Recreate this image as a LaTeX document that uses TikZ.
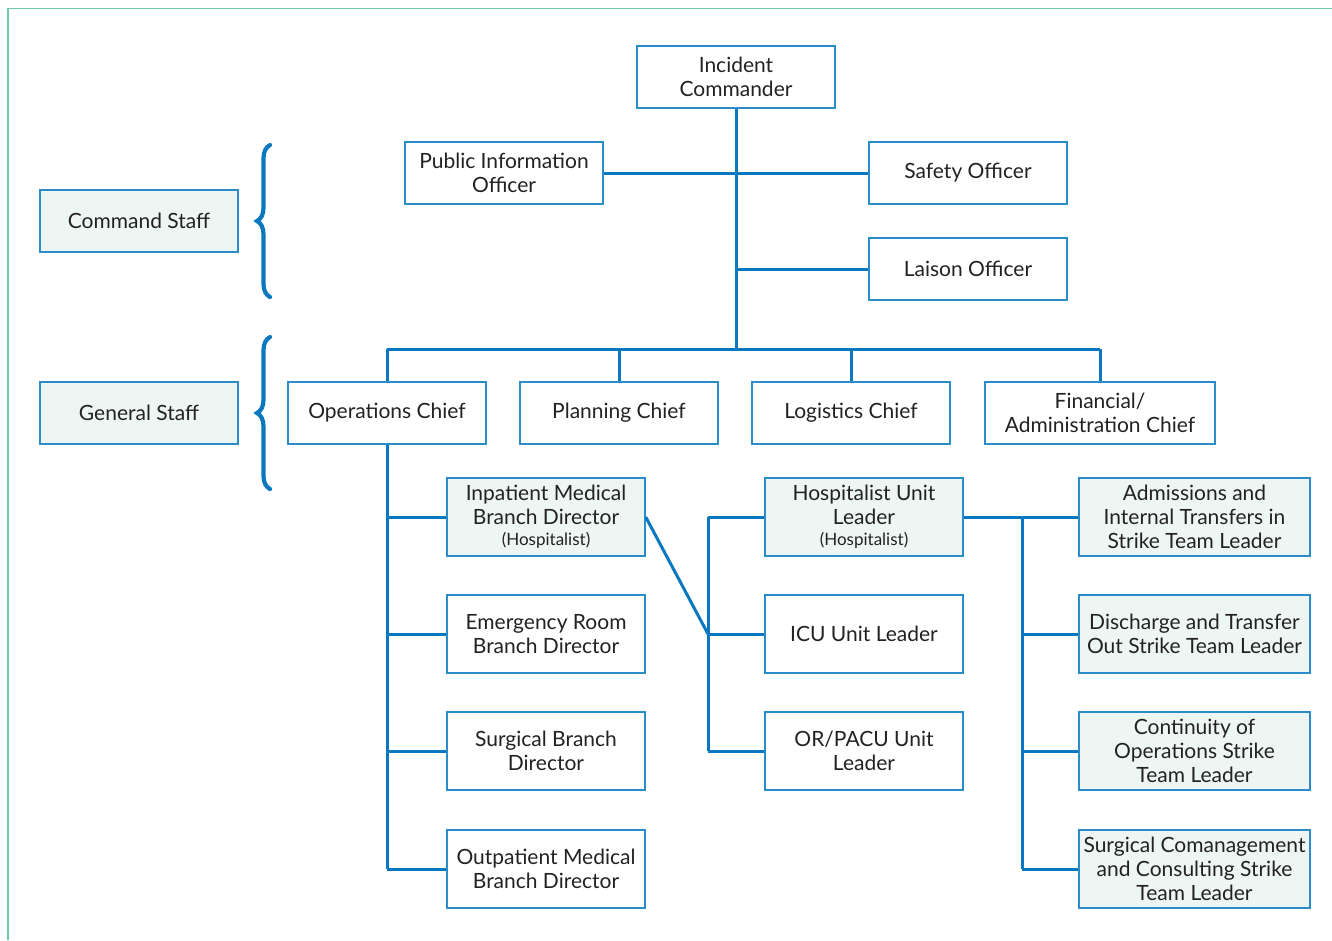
\documentclass[tikz,border=0pt]{standalone}
\usepackage{fontspec}
\setmainfont{Lato}
\usetikzlibrary{decorations.pathreplacing}
\definecolor{lineblue}{HTML}{0A78BE}
\definecolor{boxblue}{HTML}{2A8CC8}
\definecolor{shade}{HTML}{EEF6F4}
\definecolor{frame}{HTML}{6CC9B0}
\definecolor{txt}{HTML}{222222}
\begin{document}
\begin{tikzpicture}[x=1pt,y=-1pt,
  box/.style={draw=boxblue,line width=1.5pt,fill=white,minimum width=198pt,minimum height=62pt,inner sep=0pt,align=center,text=txt,font=\fontsize{21}{24}\selectfont},
  tall/.style={box,minimum height=78pt},
  shaded/.style={fill=shade},
  conn/.style={draw=lineblue,line width=3pt},
  bracestyle/.style={draw=lineblue,line width=4.2pt,line cap=round,decorate,decoration={brace,amplitude=13pt}}]
\useasboundingbox (0,0) rectangle (1332,940);
\draw[frame,line width=1.6pt] (8,940) -- (8,8.5) -- (1332,8.5);

% nodes
\node[box] (ic) at (736,77) {Incident\\Commander};
\node[box] (pio) at (504,173) {Public Information\\Officer};
\node[box] (safety) at (968,173) {Safety Officer};
\node[box] (laison) at (968,269) {Laison Officer};
\node[box,shaded] (cmd) at (139,221) {Command Staff};
\node[box,shaded] (gen) at (139,413) {General Staff};
\node[box] (ops) at (387,413) {Operations Chief};
\node[box] (plan) at (619,413) {Planning Chief};
\node[box] (log) at (851,413) {Logistics Chief};
\node[box,minimum width=230pt] (fin) at (1100,413) {Financial/\\Administration Chief};

\node[tall,shaded] (inp) at (546,517) {Inpatient Medical\\Branch Director\\[-3pt]{\fontsize{17}{20}\selectfont (Hospitalist)}};
\node[tall] (er) at (546,634) {Emergency Room\\Branch Director};
\node[tall] (surg) at (546,751) {Surgical Branch\\Director};
\node[tall] (outp) at (546,869) {Outpatient Medical\\Branch Director};

\node[tall,shaded] (hosp) at (864,517) {Hospitalist Unit\\Leader\\[-3pt]{\fontsize{17}{20}\selectfont (Hospitalist)}};
\node[tall] (icu) at (864,634) {ICU Unit Leader};
\node[tall] (orp) at (864,751) {OR/PACU Unit\\Leader};

\node[tall,shaded,minimum width=231pt] (adm) at (1194.5,517) {Admissions and\\Internal Transfers in\\Strike Team Leader};
\node[tall,shaded,minimum width=231pt] (dis) at (1194.5,634) {Discharge and Transfer\\Out Strike Team Leader};
\node[tall,shaded,minimum width=231pt] (cont) at (1194.5,751) {Continuity of\\Operations Strike\\Team Leader};
\node[tall,shaded,minimum width=231pt] (scm) at (1194.5,869) {Surgical Comanagement\\and Consulting Strike\\Team Leader};

% junction coordinates
\coordinate (bus) at (736,349);
\coordinate (mid) at (708,634);
\coordinate (rj) at (1022,517);

% connectors
\draw[conn] (ic.south) -- (bus);
\draw[conn] (pio.east) -- (safety.west);
\draw[conn] (laison.west) -- (laison.west -| ic.south);
\draw[conn] (ops.north |- bus) -- (fin.north |- bus);
\draw[conn] (ops.north |- bus) -- (ops.north);
\draw[conn] (plan.north |- bus) -- (plan.north);
\draw[conn] (log.north |- bus) -- (log.north);
\draw[conn] (fin.north |- bus) -- (fin.north);

\draw[conn] (ops.south) -- (outp.west -| ops.south);
\draw[conn] (inp.west -| ops.south) -- (inp.west);
\draw[conn] (er.west -| ops.south) -- (er.west);
\draw[conn] (surg.west -| ops.south) -- (surg.west);
\draw[conn] (outp.west -| ops.south) -- (outp.west);

\draw[conn] (inp.east) -- (mid);
\draw[conn] (hosp.west -| mid) -- (orp.west -| mid);
\draw[conn] (hosp.west -| mid) -- (hosp.west);
\draw[conn] (mid) -- (icu.west);
\draw[conn] (orp.west -| mid) -- (orp.west);

\draw[conn] (hosp.east) -- (adm.west);
\draw[conn] (rj) -- (rj |- scm.west);
\draw[conn] (dis.west -| rj) -- (dis.west);
\draw[conn] (cont.west -| rj) -- (cont.west);
\draw[conn] (scm.west -| rj) -- (scm.west);

% braces
\coordinate (b1s) at (270,297);
\coordinate (b1e) at (270,145);
\coordinate (b2s) at (270,489);
\coordinate (b2e) at (270,337);
\draw[bracestyle] (b1s) -- (b1e);
\draw[bracestyle] (b2s) -- (b2e);
\end{tikzpicture}
\end{document}
